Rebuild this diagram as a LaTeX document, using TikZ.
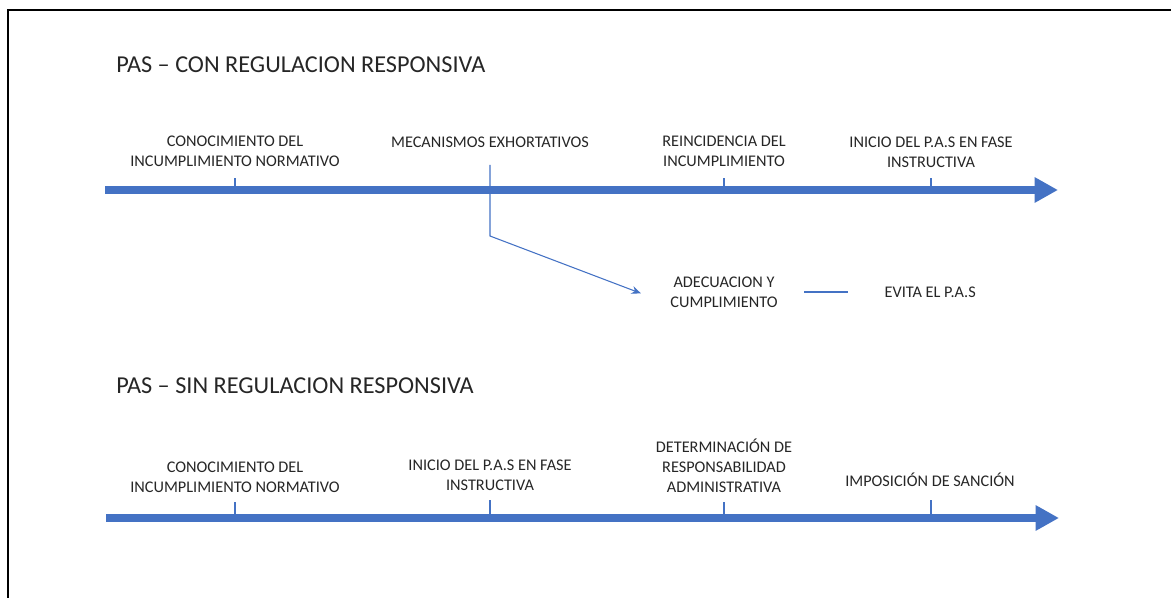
\documentclass[tikz,border=0pt]{standalone}
\usepackage{fontspec}
\setmainfont{Carlito}
\usetikzlibrary{arrows.meta}
\usetikzlibrary{positioning}
\definecolor{ejeazul}{RGB}{68,114,196}
\definecolor{textogris}{RGB}{38,38,38}

\begin{document}
\begin{tikzpicture}[x=0.75pt,y=-0.75pt]
      \tikzset{
         etapa/.style = {
            align=center, inner sep=0pt,
            text=textogris,
            font=\fontsize{12.2}{15}\selectfont
         },
         titulo/.style = {
            anchor=west, inner sep=0pt,
            text=textogris,
            font=\fontsize{18.2}{21}\selectfont
         },
         eje/.style = {
            draw=ejeazul, line width=5.5pt,
            -{Triangle[length=17.5pt,width=18pt]}
         },
         marca/.style = {draw=ejeazul, line width=0.9pt}
      }
      \useasboundingbox (0,0) rectangle (1171,598);
      \draw[line width=1.1pt] (8,598) -- (8,10) -- (1171,10);
      % con regulacion responsiva
      \node[titulo] (tituloCon) at (116,65) {PAS -- CON REGULACION RESPONSIVA};
      \coordinate (inicioCon) at (105,190);
      \coordinate (finCon) at (1058,190);
      \draw[eje] (inicioCon) -- (finCon);
      \node[etapa] (conocCon) at (235,151) {CONOCIMIENTO DEL\\INCUMPLIMIENTO NORMATIVO};
      \node[etapa] (mecanismos) at (490,142) {MECANISMOS EXHORTATIVOS};
      \node[etapa] (reincidencia) at (724,151) {REINCIDENCIA DEL\\INCUMPLIMIENTO};
      \node[etapa] (inicioPasCon) at (931,152) {INICIO DEL P.A.S EN FASE\\INSTRUCTIVA};
      \draw[marca] (235,190) -- (235,178);
      \draw[marca] (724,190) -- (724,178);
      \draw[marca] (931,190) -- (931,178);
      \node[etapa] (adecuacion) at (724,292) {ADECUACION Y\\CUMPLIMIENTO};
      \node[etapa, right=80pt of adecuacion] (evita) {EVITA EL P.A.S};
      \coordinate (codo) at (490,236);
      \draw[marca, line width=0.8pt, shorten <=13pt, -{Stealth[length=7pt,width=6pt]}]
        (mecanismos.south) -- (codo) -- ([xshift=-22pt,yshift=-1pt]adecuacion.west);
      \draw[marca, line width=0.8pt, shorten <=20pt, shorten >=27pt]
        (adecuacion.east |- evita.west) -- (evita.west);
      % sin regulacion responsiva
      \node[titulo] (tituloSin) at (116,386) {PAS -- SIN REGULACION RESPONSIVA};
      \coordinate (inicioSin) at (106,518);
      \coordinate (finSin) at (1059,518);
      \draw[eje] (inicioSin) -- (finSin);
      \node[etapa] (conocSin) at (235,477) {CONOCIMIENTO DEL\\INCUMPLIMIENTO NORMATIVO};
      \node[etapa] (inicioPasSin) at (490,475) {INICIO DEL P.A.S EN FASE\\INSTRUCTIVA};
      \node[etapa] (determinacion) at (724,466) {DETERMINACIÓN DE\\RESPONSABILIDAD\\ADMINISTRATIVA};
      \node[etapa] (imposicion) at (930,480) {IMPOSICIÓN DE SANCIÓN};
      \draw[marca] (235,518) -- (235,502);
      \draw[marca] (490,518) -- (490,500);
      \draw[marca] (724,518) -- (724,502);
      \draw[marca] (931,518) -- (931,500);
\end{tikzpicture}
\end{document}
